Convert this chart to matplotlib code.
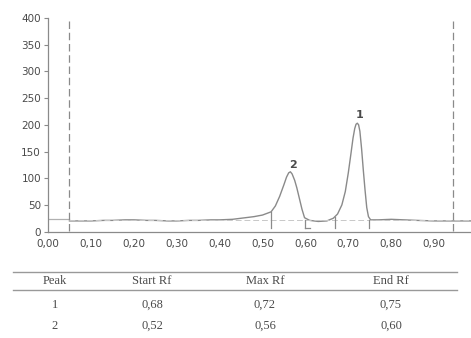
import numpy as np
import matplotlib.pyplot as plt

# densitogram trace (Rf, intensity)
rf = [0.05, 0.08, 0.10, 0.13, 0.15, 0.18, 0.20, 0.23, 0.25, 0.28, 0.30, 0.33, 0.35, 0.38,
      0.40, 0.43, 0.45, 0.48, 0.50, 0.52, 0.53, 0.54, 0.55, 0.556, 0.561, 0.565, 0.569,
      0.575, 0.58, 0.586, 0.592, 0.598, 0.61, 0.63, 0.65, 0.665, 0.675, 0.685, 0.693,
      0.70, 0.706, 0.711, 0.715, 0.718, 0.721, 0.724, 0.727, 0.731, 0.735, 0.739, 0.743,
      0.747, 0.752, 0.77, 0.80, 0.83, 0.86, 0.90, 0.94, 0.986]
signal = [20, 20, 20, 21, 21, 22, 22, 21, 21, 20, 20, 21, 21, 22,
          22, 23, 25, 28, 31, 37, 48, 66, 88, 102, 110, 112, 108,
          96, 82, 62, 42, 26, 21, 19, 20, 25, 33, 50, 75,
          110, 145, 175, 193, 201, 203, 200, 188, 155, 115, 78, 45,
          28, 22, 22, 23, 22, 21, 20, 20, 20]

# peak labels
peak_names = ["1", "2"]
peak_rf = [0.727, 0.571]
peak_lbl_y = [218, 125]

# start/end markers
marker_rf = [0.52, 0.60, 0.67, 0.749]
marker_top = [36, 22, 28, 22]

# solvent front / start lines
front_rf = [0.05, 0.945]

# table
col_names = ["Peak", "Start Rf", "Max Rf", "End Rf"]
rows = [["1", "0,68", "0,72", "0,75"],
        ["2", "0,52", "0,56", "0,60"]]

line_c = "#8a8a8a"
text_c = "#4a4a4a"

W, H = 471, 338
fig = plt.figure(figsize=(W / 100, H / 100), dpi=100)

x0, y0, y1 = 48, 231.6, 18
ax = fig.add_axes([x0 / W, (H - y0) / H, (W - x0) / W, (y0 - y1) / H])
ax.set_xlim(0, (W - x0) / 429)
ax.set_ylim(0, 400)

ax.plot(rf, signal, color=line_c, lw=1.0)
ax.plot([0, front_rf[0]], [24, 24], color="#b0b0b0", lw=0.9)
ax.plot([front_rf[0], 0.986], [21, 21], color="#c8c8c8", lw=0.7, ls=(0, (6, 3)))

for xr in front_rf:
    ax.plot([xr, xr], [2, 395], color=line_c, lw=0.9, ls=(0, (6, 3)))

for xr, top in zip(marker_rf, marker_top):
    ax.plot([xr, xr], [7, top], color=line_c, lw=0.9)
ax.plot([0.60, 0.61], [7, 7], color=line_c, lw=0.9)

for n, xr, yv in zip(peak_names, peak_rf, peak_lbl_y):
    ax.text(xr, yv, n, ha="center", va="center", fontsize=8, color=text_c,
            fontweight="bold")

ax.spines["top"].set_visible(False)
ax.spines["right"].set_visible(False)
for s in ("left", "bottom"):
    ax.spines[s].set_color(line_c)
    ax.spines[s].set_linewidth(0.9)

ax.set_yticks(np.arange(0, 401, 50))
xt = np.arange(0, 0.91, 0.1)
ax.set_xticks(xt)
ax.set_xticklabels([f"{v:.2f}".replace(".", ",") for v in xt])
ax.tick_params(axis="both", labelsize=7.5, colors=line_c, labelcolor=text_c,
               length=3, width=0.8, pad=2)
ax.tick_params(axis="x", length=0, pad=5)

# table below the chart
tab = fig.add_axes([0, 0, 1, 1], facecolor="none")
tab.set_xlim(0, W)
tab.set_ylim(H, 0)
tab.axis("off")
tab.plot([13, 457], [272, 272], color="#999999", lw=1.0)
tab.plot([13, 457], [290, 290], color="#999999", lw=1.0)
col_x = [55, 152, 265, 391]
for cx, name in zip(col_x, col_names):
    tab.text(cx, 281, name, ha="center", va="center", fontsize=9,
             family="Liberation Serif", color=text_c)
for ry, row in zip([305, 326], rows):
    for cx, val in zip(col_x, row):
        tab.text(cx, ry, val, ha="center", va="center", fontsize=9,
                 family="Liberation Serif", color=text_c)

fig.savefig("out.png", dpi=100)
